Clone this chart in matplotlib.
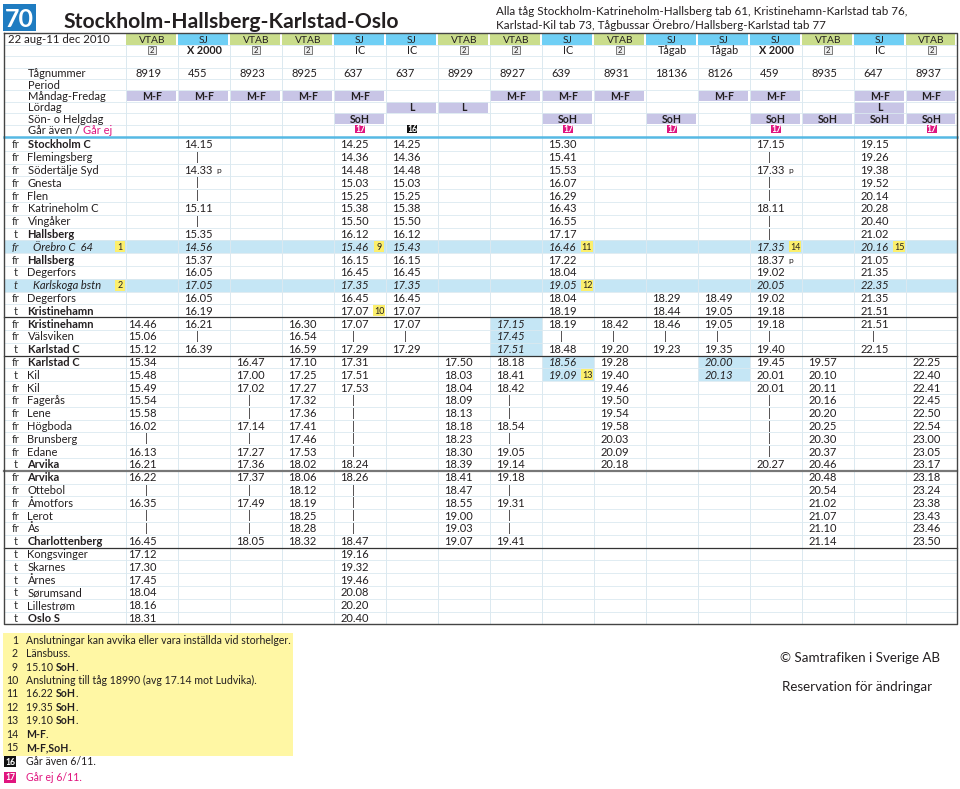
import matplotlib
matplotlib.use('Agg')
import matplotlib.pyplot as plt
from matplotlib.patches import Rectangle

plt.rcParams['font.family'] = ['Lato', 'DejaVu Sans']

# ---------------- data ----------------
title_number = "70"
title = "Stockholm-Hallsberg-Karlstad-Oslo"
subtitle = ["Alla tåg Stockholm-Katrineholm-Hallsberg tab 61, Kristinehamn-Karlstad tab 76,",
            "Karlstad-Kil tab 73, Tågbussar Örebro/Hallsberg-Karlstad tab 77"]
period_text = "22 aug-11 dec 2010"

operators = ["VTAB", "SJ", "VTAB", "VTAB", "SJ", "SJ", "VTAB", "VTAB",
             "SJ", "VTAB", "SJ", "SJ", "SJ", "VTAB", "SJ", "VTAB"]
train_types = ["2", "X 2000", "2", "2", "IC", "IC", "2", "2",
               "IC", "2", "Tågab", "Tågab", "X 2000", "2", "IC", "2"]
train_numbers = ["8919", "455", "8923", "8925", "637", "637", "8929", "8927",
                 "639", "8931", "18136", "8126", "459", "8935", "647", "8937"]
mon_fri = ["M-F", "M-F", "M-F", "M-F", "M-F", "", "", "M-F",
           "M-F", "M-F", "", "M-F", "M-F", "", "M-F", "M-F"]
saturday = ["", "", "", "", "", "L", "L", "", "", "", "", "", "", "", "L", ""]
sun_hol = ["", "", "", "", "SoH", "", "", "", "SoH", "", "SoH", "", "SoH", "SoH", "SoH", "SoH"]
extra_days = ["", "", "", "", "17", "16", "", "", "17", "", "17", "", "17", "", "", "17"]

header_labels = ["Tågnummer", "Period", "Måndag-Fredag", "Lördag", "Sön- o Helgdag"]

prefixes = ["fr", "fr", "fr", "fr", "fr", "fr", "fr", "t", "fr", "fr", "t", "t", "fr", "t",
            "fr", "fr", "t", "fr", "t", "fr", "fr", "fr", "fr", "fr", "fr", "t",
            "fr", "fr", "fr", "fr", "fr", "t", "t", "t", "t", "t", "t", "t"]
stations = ["Stockholm C", "Flemingsberg", "Södertälje Syd", "Gnesta", "Flen",
            "Katrineholm C", "Vingåker", "Hallsberg", "Örebro C  64", "Hallsberg",
            "Degerfors", "Karlskoga bstn", "Degerfors", "Kristinehamn",
            "Kristinehamn", "Välsviken", "Karlstad C", "Karlstad C", "Kil", "Kil",
            "Fagerås", "Lene", "Högboda", "Brunsberg", "Edane", "Arvika",
            "Arvika", "Ottebol", "Åmotfors", "Lerot", "Ås", "Charlottenberg",
            "Kongsvinger", "Skarnes", "Årnes", "Sørumsand", "Lillestrøm", "Oslo S"]
bold_stations = ["Stockholm C", "Hallsberg", "Kristinehamn", "Karlstad C",
                 "Arvika", "Charlottenberg", "Oslo S"]
italic_rows = [8, 11]
row_notes = {8: "1", 11: "2"}
separator_after = [13, 16, 25, 31]

_ = ""
times = [
    [_, "14.15", _, _, "14.25", "14.25", _, _, "15.30", _, _, _, "17.15", _, "19.15", _],
    [_, "|", _, _, "14.36", "14.36", _, _, "15.41", _, _, _, "|", _, "19.26", _],
    [_, "14.33 p", _, _, "14.48", "14.48", _, _, "15.53", _, _, _, "17.33 p", _, "19.38", _],
    [_, "|", _, _, "15.03", "15.03", _, _, "16.07", _, _, _, "|", _, "19.52", _],
    [_, "|", _, _, "15.25", "15.25", _, _, "16.29", _, _, _, "|", _, "20.14", _],
    [_, "15.11", _, _, "15.38", "15.38", _, _, "16.43", _, _, _, "18.11", _, "20.28", _],
    [_, "|", _, _, "15.50", "15.50", _, _, "16.55", _, _, _, "|", _, "20.40", _],
    [_, "15.35", _, _, "16.12", "16.12", _, _, "17.17", _, _, _, "|", _, "21.02", _],
    [_, "14.56", _, _, "15.46 #9", "15.43", _, _, "16.46 #11", _, _, _, "17.35 #14", _, "20.16 #15", _],
    [_, "15.37", _, _, "16.15", "16.15", _, _, "17.22", _, _, _, "18.37 p", _, "21.05", _],
    [_, "16.05", _, _, "16.45", "16.45", _, _, "18.04", _, _, _, "19.02", _, "21.35", _],
    [_, "17.05", _, _, "17.35", "17.35", _, _, "19.05 #12", _, _, _, "20.05", _, "22.35", _],
    [_, "16.05", _, _, "16.45", "16.45", _, _, "18.04", _, "18.29", "18.49", "19.02", _, "21.35", _],
    [_, "16.19", _, _, "17.07 #10", "17.07", _, _, "18.19", _, "18.44", "19.05", "19.18", _, "21.51", _],
    ["14.46", "16.21", _, "16.30", "17.07", "17.07", _, "*17.15", "18.19", "18.42", "18.46", "19.05", "19.18", _, "21.51", _],
    ["15.06", "|", _, "16.54", "|", "|", _, "*17.45", "|", "|", "|", "|", "|", _, "|", _],
    ["15.12", "16.39", _, "16.59", "17.29", "17.29", _, "*17.51", "18.48", "19.20", "19.23", "19.35", "19.40", _, "22.15", _],
    ["15.34", _, "16.47", "17.10", "17.31", _, "17.50", "18.18", "*18.56", "19.28", _, "*20.00", "19.45", "19.57", _, "22.25"],
    ["15.48", _, "17.00", "17.25", "17.51", _, "18.03", "18.41", "*19.09 #13", "19.40", _, "*20.13", "20.01", "20.10", _, "22.40"],
    ["15.49", _, "17.02", "17.27", "17.53", _, "18.04", "18.42", _, "19.46", _, _, "20.01", "20.11", _, "22.41"],
    ["15.54", _, "|", "17.32", "|", _, "18.09", "|", _, "19.50", _, _, "|", "20.16", _, "22.45"],
    ["15.58", _, "|", "17.36", "|", _, "18.13", "|", _, "19.54", _, _, "|", "20.20", _, "22.50"],
    ["16.02", _, "17.14", "17.41", "|", _, "18.18", "18.54", _, "19.58", _, _, "|", "20.25", _, "22.54"],
    ["|", _, "|", "17.46", "|", _, "18.23", "|", _, "20.03", _, _, "|", "20.30", _, "23.00"],
    ["16.13", _, "17.27", "17.53", "|", _, "18.30", "19.05", _, "20.09", _, _, "|", "20.37", _, "23.05"],
    ["16.21", _, "17.36", "18.02", "18.24", _, "18.39", "19.14", _, "20.18", _, _, "20.27", "20.46", _, "23.17"],
    ["16.22", _, "17.37", "18.06", "18.26", _, "18.41", "19.18", _, _, _, _, _, "20.48", _, "23.18"],
    ["|", _, "|", "18.12", "|", _, "18.47", "|", _, _, _, _, _, "20.54", _, "23.24"],
    ["16.35", _, "17.49", "18.19", "|", _, "18.55", "19.31", _, _, _, _, _, "21.02", _, "23.38"],
    ["|", _, "|", "18.25", "|", _, "19.00", "|", _, _, _, _, _, "21.07", _, "23.43"],
    ["|", _, "|", "18.28", "|", _, "19.03", "|", _, _, _, _, _, "21.10", _, "23.46"],
    ["16.45", _, "18.05", "18.32", "18.47", _, "19.07", "19.41", _, _, _, _, _, "21.14", _, "23.50"],
    ["17.12", _, _, _, "19.16", _, _, _, _, _, _, _, _, _, _, _],
    ["17.30", _, _, _, "19.32", _, _, _, _, _, _, _, _, _, _, _],
    ["17.45", _, _, _, "19.46", _, _, _, _, _, _, _, _, _, _, _],
    ["18.04", _, _, _, "20.08", _, _, _, _, _, _, _, _, _, _, _],
    ["18.16", _, _, _, "20.20", _, _, _, _, _, _, _, _, _, _, _],
    ["18.31", _, _, _, "20.40", _, _, _, _, _, _, _, _, _, _, _],
]

footnote_numbers = ["1", "2", "9", "10", "11", "12", "13", "14", "15"]
footnote_texts = [
    [("Anslutningar kan avvika eller vara inställda vid storhelger.", "normal")],
    [("Länsbuss.", "normal")],
    [("15.10 ", "normal"), ("SoH", "bold"), (".", "normal")],
    [("Anslutning till tåg 18990 (avg 17.14 mot Ludvika).", "normal")],
    [("16.22 ", "normal"), ("SoH", "bold"), (".", "normal")],
    [("19.35 ", "normal"), ("SoH", "bold"), (".", "normal")],
    [("19.10 ", "normal"), ("SoH", "bold"), (".", "normal")],
    [("M-F", "bold"), (".", "normal")],
    [("M-F,SoH", "bold"), (".", "normal")],
]
badge_notes = [("16", "Går även 6/11."), ("17", "Går ej 6/11.")]
credits = ["© Samtrafiken i Sverige AB", "Reservation för ändringar"]

# ---------------- style ----------------
INK = "#231f20"
OP_COLORS = {"VTAB": "#cadd8c", "SJ": "#6fcff5"}
PURPLE = "#c8c5e6"
HL_BLUE = "#c5e6f5"
GRID = "#dbe9f0"
NOTE_YEL = "#fcef6c"
FOOT_YEL = "#fff7a4"
MAGENTA = "#e0157f"
BADGE_COL = {"16": "#111111", "17": MAGENTA}

X0, X1 = 3.5, 957.0
COL0, COLW = 126.0, 52.0
HTOP, HROW = 33.3, 11.4
DTOP, DROW = 137.9, 12.8
FS = 8.0

fig = plt.figure(figsize=(9.6, 7.89), dpi=100)
ax = fig.add_axes([0, 0, 1, 1])
ax.set_xlim(0, 960)
ax.set_ylim(789, 0)
ax.axis('off')
renderer = fig.canvas.get_renderer()


def T(x, y, s, size=FS, ha='left', weight='normal', style='normal', color=INK, **kw):
    return ax.text(x, y + size * 100 / 72 * 0.36, s, ha=ha, va='baseline', fontsize=size,
                   fontweight=weight, fontstyle=style, color=color, **kw)


def runs(x, y, parts, size=FS, color=INK):
    for s, w, *c in parts:
        t = T(x, y, s, size=size, weight=w, color=c[0] if c else color)
        bb = t.get_window_extent(renderer=renderer)
        x += bb.width


def col_left(c):
    return COL0 + COLW * c


def col_w(c):
    return (X1 - col_left(c)) if c == 15 else COLW


def hrow_c(i):
    return HTOP + HROW * (i + 0.5)


def drow_c(i):
    return DTOP + DROW * (i + 0.5)


def badge(xc, yc, num, w=10, h=8.5):
    ax.add_patch(Rectangle((xc - w / 2, yc - h / 2), w, h, facecolor=BADGE_COL[num],
                           edgecolor='none', zorder=4))
    T(xc, yc, num, size=6.2, ha='center', weight='bold', color='white', zorder=5)


def note_box(xc, yc, num):
    w = 9.5 if len(num) == 1 else 12.5
    ax.add_patch(Rectangle((xc - w / 2, yc - 5.6), w, 11.2, facecolor=NOTE_YEL,
                           edgecolor='none', zorder=2))
    T(xc, yc, num, size=6.4, ha='center', zorder=5)


def class2(xc, yc):
    ax.add_patch(Rectangle((xc - 4, yc - 4), 8, 8, facecolor='#efefef',
                           edgecolor='#666666', lw=0.6, zorder=4))
    T(xc, yc, "2", size=5.5, ha='center', zorder=5)


# ---------------- title ----------------
ax.add_patch(Rectangle((3, 4), 32.5, 26.5, facecolor='#1f7cc1', edgecolor='none'))
T(19.5, 17.5, title_number, size=18, ha='center', weight='bold', color='white')
T(64, 20, title, size=15.2, weight='bold')
T(496, 11, subtitle[0], size=8.4)
T(496, 25, subtitle[1], size=8.4)

# ---------------- header ----------------
nrows = len(stations)
ybot = DTOP + DROW * nrows
for c in range(16):
    xl, w = col_left(c), col_w(c)
    ax.add_patch(Rectangle((xl, HTOP), w - 1.6, HROW, facecolor=OP_COLORS[operators[c]],
                           edgecolor='none', zorder=1))
    for r, vals in ((5, mon_fri), (6, saturday), (7, sun_hol)):
        if vals[c]:
            ax.add_patch(Rectangle((xl, HTOP + HROW * r + 0.3), w - 1.6, HROW - 0.6,
                                   facecolor=PURPLE, edgecolor='none', zorder=1))

# highlight rows and cells
for r in italic_rows:
    ax.add_patch(Rectangle((X0, DTOP + DROW * r), X1 - X0, DROW, facecolor=HL_BLUE,
                           edgecolor='none', zorder=1))
for r, row in enumerate(times):
    for c, cell in enumerate(row):
        if cell.startswith('*'):
            ax.add_patch(Rectangle((col_left(c), DTOP + DROW * r), col_w(c), DROW,
                                   facecolor=HL_BLUE, edgecolor='none', zorder=1))

# grid
for i in range(1, 9):
    ax.plot([X0, X1], [HTOP + HROW * i] * 2, color=GRID, lw=0.6, zorder=1.5)
for i in range(1, nrows):
    ax.plot([X0, X1], [DTOP + DROW * i] * 2, color=GRID, lw=0.6, zorder=1.5)
for c in range(16):
    ax.plot([col_left(c)] * 2, [HTOP + HROW, ybot], color=GRID, lw=0.7, zorder=1.5)
# separators
for r in separator_after:
    yy = DTOP + DROW * (r + 1)
    ax.plot([X0, X1], [yy, yy], color='#777777' if r == 25 else '#333333',
            lw=1.6 if r == 25 else 0.9, zorder=3)
# header bottom line
ax.plot([X0, X1], [DTOP - 1.2, DTOP - 1.2], color='#56b9e4', lw=1.8, zorder=3)
# frame
ax.plot([X0, X1, X1, X0, X0], [HTOP, HTOP, ybot, ybot, HTOP], color='#444444', lw=1.0, zorder=3)

T(8, hrow_c(0), period_text, size=8.2)
for i, lab in enumerate(header_labels):
    T(28, hrow_c(3 + i), lab)
runs(28, hrow_c(8), [("Går även / ", "normal"), ("Går ej", "normal", MAGENTA)])

for c in range(16):
    xl, w = col_left(c), col_w(c)
    xc = xl + w / 2
    T(xc, hrow_c(0), operators[c], size=7.4, ha='center', zorder=5)
    tt = train_types[c]
    if tt == "2":
        class2(xc, hrow_c(1))
    else:
        T(xc, hrow_c(1), tt, size=7.8, ha='center',
          weight='bold' if tt.startswith('X') else 'normal', zorder=5)
    T(xl + 9.5, hrow_c(3), train_numbers[c], zorder=5)
    for r, vals in ((5, mon_fri), (6, saturday), (7, sun_hol)):
        if vals[c]:
            T(xc, hrow_c(r), vals[c], size=7.6, ha='center', weight='bold', zorder=5)
    if extra_days[c]:
        badge(xc, hrow_c(8) - 1, extra_days[c])

# ---------------- station rows ----------------
for r in range(nrows):
    y = drow_c(r)
    ital = r in italic_rows
    st = 'italic' if ital else 'normal'
    T(11.5 if prefixes[r] == 'fr' else 13.5, y, prefixes[r], style=st, color='#333333', zorder=5)
    T(33 if ital else 27.5, y, stations[r], style=st,
      weight='bold' if (stations[r] in bold_stations and not ital) else 'normal', zorder=5)
    if r in row_notes:
        note_box(120, y, row_notes[r])
    for c, cell in enumerate(times[r]):
        if not cell:
            continue
        cell_it = cell.startswith('*')
        parts = cell.lstrip('*').split(' ')
        main = parts[0]
        xl = col_left(c)
        if main == '|':
            T(xl + (20 if c == 0 else 19.5), y - 0.3, '|', size=8.0, ha='center', zorder=5)
        else:
            T(xl + (2.5 if c == 0 else 6.5), y, main, style='italic' if (ital or cell_it) else 'normal',
              zorder=5)
        for p in parts[1:]:
            if p == 'p':
                T(xl + 38, y + 0.5, 'p', size=6.0, zorder=5)
            elif p.startswith('#'):
                note_box(xl + 45, y, p[1:])

# ---------------- footnotes ----------------
ax.add_patch(Rectangle((3, 633), 290, 123, facecolor=FOOT_YEL, edgecolor='none'))
for i, (num, parts) in enumerate(zip(footnote_numbers, footnote_texts)):
    y = 640 + 13.4 * i
    T(18, y, num, ha='right', size=7.6)
    runs(26, y, parts, size=7.6)
for j, (num, txt) in enumerate(badge_notes):
    y = 761.5 + 15.5 * j
    badge(10, y, num, w=12, h=11)
    T(26, y, txt, size=7.6, color=MAGENTA if num == "17" else INK)

T(780, 657, credits[0], size=9.6)
T(782, 686, credits[1], size=9.6)

fig.savefig('out.png', dpi=100)
